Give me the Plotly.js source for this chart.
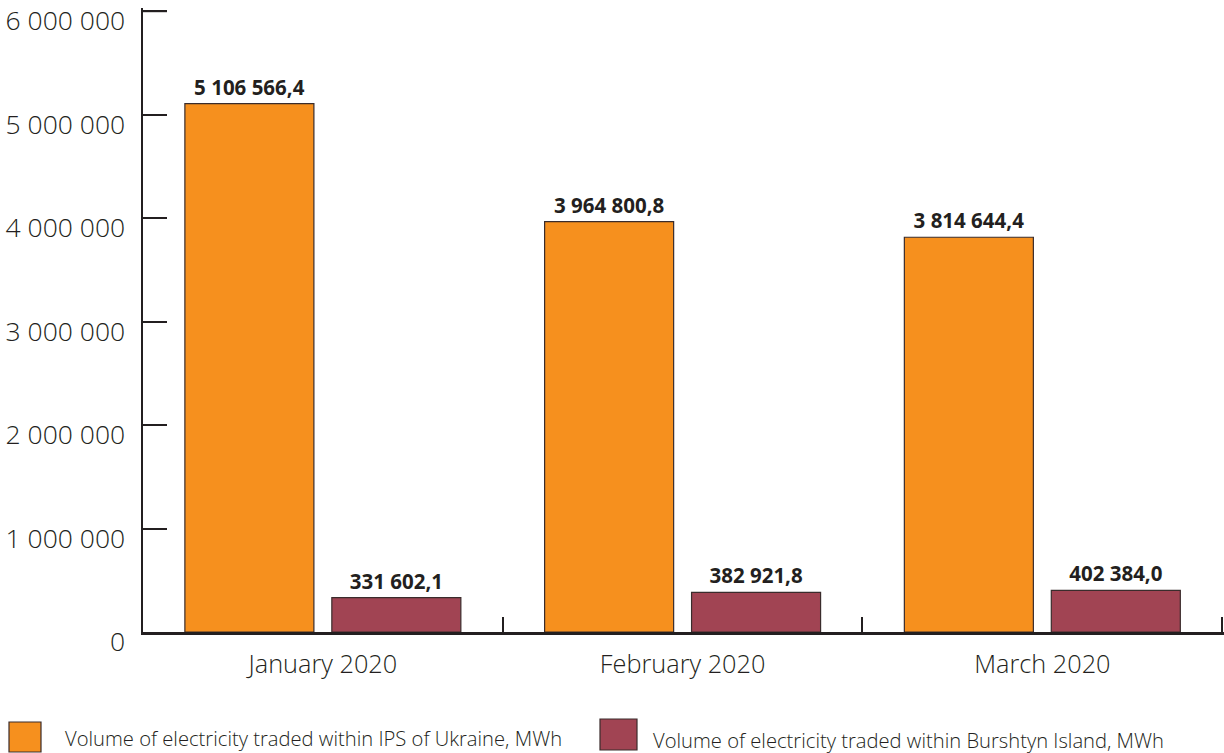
<!DOCTYPE html>
<html>
<head>
<meta charset="utf-8">
<script src="https://cdn.plot.ly/plotly-3.0.1.min.js"></script>
<style>
  html, body { margin: 0; padding: 0; background: #fff; }
  #chart { width: 1224px; height: 753px; }
</style>
</head>
<body>
<div id="chart"></div>
<script>
// Monthly traded electricity volumes, MWh
const months = ["January 2020", "February 2020", "March 2020"];
const ipsUkraine = [5106566.4, 3964800.8, 3814644.4];
const burshtynIsland = [331602.1, 382921.8, 402384.0];
const seriesNames = [
  "Volume of electricity traded within IPS of Ukraine, MWh",
  "Volume of electricity traded within Burshtyn Island, MWh"
];
const yTicks = [0, 1000000, 2000000, 3000000, 4000000, 5000000, 6000000];

const ORANGE = "#F6901E";
const MAROON = "#A14453";
const INK = "#231F20";
const FONT = "Open Sans, sans-serif";

function barTrace(values, name, color) {
  return {
    type: "bar",
    x: months,
    y: values,
    name: name,
    marker: { color: color, line: { color: "#3A2C2C", width: 1.2 } },
    texttemplate: "%{y:,.1f}",
    textposition: "outside",
    textfont: { family: FONT, size: 20.5, color: INK, weight: 700 },
    cliponaxis: false,
    hoverinfo: "skip"
  };
}

const data = [
  barTrace(ipsUkraine, seriesNames[0], ORANGE),
  barTrace(burshtynIsland, seriesNames[1], MAROON)
];

// Plot area spans x 143..1224, y 8..632; the axis ranges leave a little
// room past the last ticks so the end ticks are still drawn.
const L = 143, R = 0, T = 8, B = 121, W = 1224, H = 753;
const pw = W - L - R, ph = H - T - B;
const px = v => (v - L) / pw;
const py = v => (H - B - v) / ph;
const Y_TICKLEN = 24;
const Y_MAX = 6030000;

const legendItems = [
  { x0: 9, y0: 722, x1: 41, y1: 752, color: ORANGE, tx: 64, ty: 738, text: seriesNames[0] },
  { x0: 600, y0: 719, x1: 637, y1: 750, color: MAROON, tx: 652, ty: 740, text: seriesNames[1] }
];

const shapes = legendItems.map(it => ({
  type: "rect", xref: "paper", yref: "paper",
  x0: px(it.x0), x1: px(it.x1), y0: py(it.y1), y1: py(it.y0),
  fillcolor: it.color, line: { color: "#3A2C2C", width: 1.2 }
}));

// Top tick of the value axis, placed at the last tick value
const topTick = yTicks[yTicks.length - 1] / Y_MAX;
shapes.push({
  type: "line", xref: "paper", yref: "paper", layer: "above",
  x0: 0, x1: Y_TICKLEN / pw, y0: topTick, y1: topTick,
  line: { color: INK, width: 2.2 }
});

const annotations = legendItems.map(it => ({
  xref: "paper", yref: "paper", x: px(it.tx), y: py(it.ty),
  xanchor: "left", yanchor: "middle", showarrow: false, borderpad: 0,
  text: it.text, font: { family: FONT, size: 20.2, color: INK, weight: 300 }
}));

const layout = {
  width: W, height: H,
  margin: { l: L, r: R, t: T, b: B, pad: 0 },
  paper_bgcolor: "#fff", plot_bgcolor: "#fff",
  separators: ", ",
  barmode: "group",
  bargap: 0.183,
  bargroupgap: 0.122,
  showlegend: false,
  font: { family: FONT, color: INK },
  xaxis: {
    type: "category",
    range: [-0.5, 2.505],
    showline: true, linecolor: INK, linewidth: 2.5,
    showgrid: false, zeroline: false,
    tickson: "boundaries",
    ticks: "inside", ticklen: 15, tickwidth: 2, tickcolor: INK,
    tickfont: { family: FONT, size: 25.3, color: INK, weight: 300 },
    ticklabelstandoff: 8
  },
  yaxis: {
    range: [0, Y_MAX],
    tickvals: yTicks,
    tickformat: ",d",
    showline: true, linecolor: INK, linewidth: 2.5,
    showgrid: false, zeroline: false,
    ticks: "inside", ticklen: Y_TICKLEN, tickwidth: 2, tickcolor: INK,
    tickfont: { family: FONT, size: 26.5, color: INK, weight: 300 },
    ticklabelstandoff: 10,
    ticklabelshift: 10,
    ticklabeloverflow: "allow"
  },
  shapes: shapes,
  annotations: annotations
};

Plotly.newPlot("chart", data, layout, { displayModeBar: false, staticPlot: true });
</script>
</body>
</html>
